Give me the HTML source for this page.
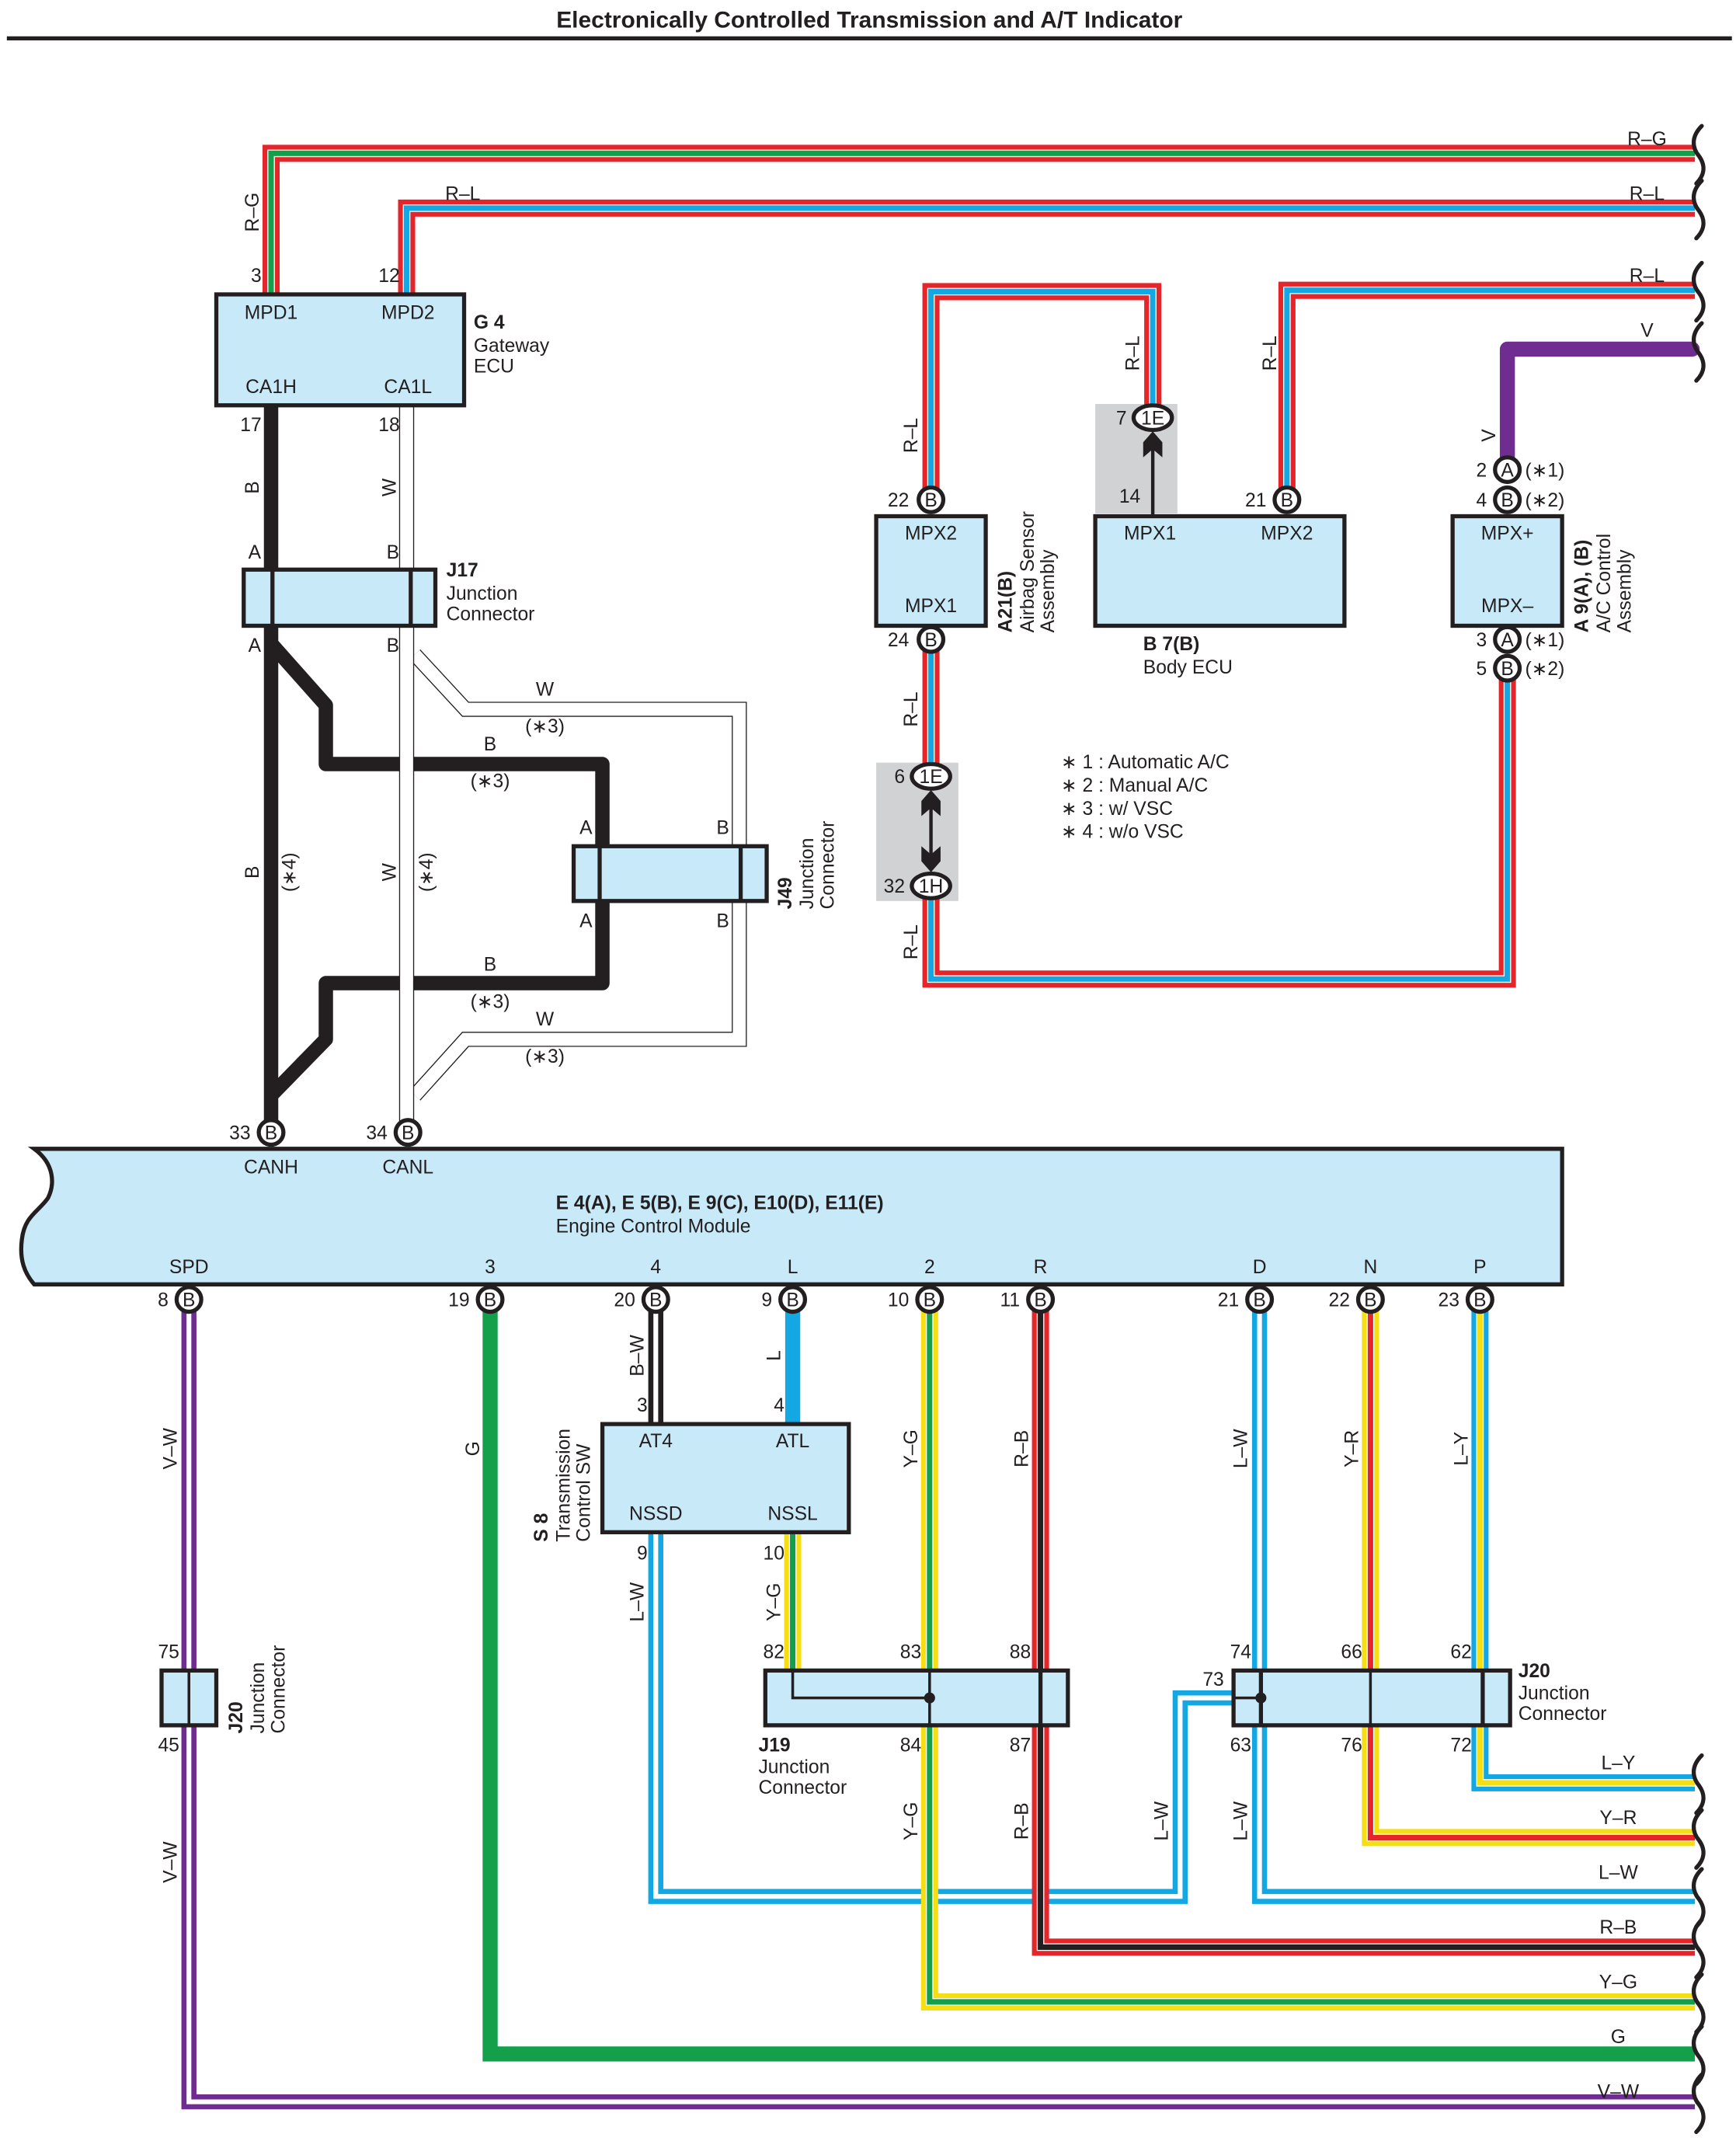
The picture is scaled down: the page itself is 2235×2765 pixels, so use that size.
<!DOCTYPE html>
<html><head><meta charset="utf-8">
<style>
html,body{margin:0;padding:0;background:#fff;}
svg{display:block;}
text{font-family:"Liberation Sans",Arial,sans-serif;font-size:14px;fill:#231f20;}
.b{font-weight:bold;}
.m{text-anchor:middle;}
.e{text-anchor:end;}
.box{fill:#c8e9f8;stroke:#231f20;stroke-width:3;}
.pin{fill:#fff;stroke:#231f20;stroke-width:3;}
path{fill:none;}
.brk{stroke:#231f20;stroke-width:3;stroke-linecap:round;}
.arr{fill:#231f20;stroke:none;}
</style></head>
<body>
<svg width="2235" height="2765" viewBox="0 0 1268 1568.7" xmlns="http://www.w3.org/2000/svg">
<rect x="0" y="0" width="1268" height="1568.7" fill="#fff"/>
<text x="635" y="20" class="m b" style="font-size:17px">Electronically Controlled Transmission and A/T Indicator</text>
<line x1="5" y1="28" x2="1265" y2="28" stroke="#231f20" stroke-width="3"/>

<rect x="800" y="295" width="60" height="80" fill="#d1d2d4"/>
<rect x="640" y="557" width="60" height="101" fill="#d1d2d4"/>

<g stroke-linejoin="miter">
<path d="M198 215 V112 H1238" stroke="#e4262b" stroke-width="12.5"/>
<path d="M198 215 V112 H1238" stroke="#fff" stroke-width="5.5"/>
<path d="M198 215 V112 H1238" stroke="#14a04a" stroke-width="4"/>
<path d="M297 215 V152 H1238" stroke="#e4262b" stroke-width="12.5"/>
<path d="M297 215 V152 H1238" stroke="#fff" stroke-width="5.5"/>
<path d="M297 215 V152 H1238" stroke="#13a8e3" stroke-width="4"/>
<path d="M940 365 V212 H1238" stroke="#e4262b" stroke-width="12.5"/>
<path d="M940 365 V212 H1238" stroke="#fff" stroke-width="5.5"/>
<path d="M940 365 V212 H1238" stroke="#13a8e3" stroke-width="4"/>
<path d="M680 365 V213 H842 V305" stroke="#e4262b" stroke-width="12.5"/>
<path d="M680 365 V213 H842 V305" stroke="#fff" stroke-width="5.5"/>
<path d="M680 365 V213 H842 V305" stroke="#13a8e3" stroke-width="4"/>
<path d="M680 467 V567" stroke="#e4262b" stroke-width="12.5"/>
<path d="M680 467 V567" stroke="#fff" stroke-width="5.5"/>
<path d="M680 467 V567" stroke="#13a8e3" stroke-width="4"/>
<path d="M680 647 V715 H1101 V488" stroke="#e4262b" stroke-width="12.5"/>
<path d="M680 647 V715 H1101 V488" stroke="#fff" stroke-width="5.5"/>
<path d="M680 647 V715 H1101 V488" stroke="#13a8e3" stroke-width="4"/>
</g>
<path d="M1101 343 V255 H1236" stroke="#6f2c91" stroke-width="11" stroke-linejoin="round" stroke-linecap="round"/>

<path d="M198 470 L238 515 V558 H440 V718 H238 V759 L198 800" stroke="#231f20" stroke-width="10.5" stroke-linejoin="round"/>
<path d="M198 296 V827" stroke="#231f20" stroke-width="10.5"/>
<path d="M303 478 L340 518 H540 V759 H340 L303 800" stroke="#231f20" stroke-width="11"/>
<path d="M303 478 L340 518 H540 V759 H340 L303 800" stroke="#fff" stroke-width="9.5"/>
<path d="M297 296 V827" stroke="#231f20" stroke-width="11"/>
<path d="M297 296 V827" stroke="#fff" stroke-width="9.5"/>

<g stroke-linejoin="miter">
<path d="M138 949 V1535 H1238" stroke="#6f2c91" stroke-width="11"/>
<path d="M138 949 V1535 H1238" stroke="#fff" stroke-width="3.5"/>
<path d="M358 949 V1500 H1238" stroke="#14a04a" stroke-width="11"/>
<path d="M479 949 V1040" stroke="#231f20" stroke-width="11"/>
<path d="M479 949 V1040" stroke="#fff" stroke-width="3.5"/>
<path d="M579 949 V1040" stroke="#13a8e3" stroke-width="11"/>
<path d="M479 1119 V1385 H862 V1240 H900" stroke="#13a8e3" stroke-width="11"/>
<path d="M479 1119 V1385 H862 V1240 H900" stroke="#fff" stroke-width="3.5"/>
<path d="M579 1119 V1220" stroke="#f5df13" stroke-width="12.5"/>
<path d="M579 1119 V1220" stroke="#fff" stroke-width="5.5"/>
<path d="M579 1119 V1220" stroke="#14a04a" stroke-width="4"/>
<path d="M679 949 V1462 H1238" stroke="#f5df13" stroke-width="12.5"/>
<path d="M679 949 V1462 H1238" stroke="#fff" stroke-width="5.5"/>
<path d="M679 949 V1462 H1238" stroke="#14a04a" stroke-width="4"/>
<path d="M760 949 V1422 H1238" stroke="#e4262b" stroke-width="12.5"/>
<path d="M760 949 V1422 H1238" stroke="#fff" stroke-width="5.5"/>
<path d="M760 949 V1422 H1238" stroke="#231f20" stroke-width="4"/>
<path d="M920 949 V1385 H1238" stroke="#13a8e3" stroke-width="11"/>
<path d="M920 949 V1385 H1238" stroke="#fff" stroke-width="3.5"/>
<path d="M1001 949 V1342 H1238" stroke="#f5df13" stroke-width="12.5"/>
<path d="M1001 949 V1342 H1238" stroke="#fff" stroke-width="5.5"/>
<path d="M1001 949 V1342 H1238" stroke="#e4262b" stroke-width="4"/>
<path d="M1081 949 V1302 H1238" stroke="#13a8e3" stroke-width="12.5"/>
<path d="M1081 949 V1302 H1238" stroke="#fff" stroke-width="5.5"/>
<path d="M1081 949 V1302 H1238" stroke="#f5df13" stroke-width="4"/>
</g>

<g class="brk">
<path d="M1243 92 C1235 100,1236 108,1241 114 C1246 121,1245 128,1239 134"/>
<path d="M1243 132 C1235 140,1236 148,1241 154 C1246 161,1245 168,1239 174"/>
<path d="M1243 192 C1235 200,1236 208,1241 214 C1246 221,1245 228,1239 234"/>
<path d="M1243 236 C1235 244,1236 252,1241 258 C1246 265,1245 272,1239 278"/>
<path d="M1243 1282 C1235 1290,1236 1298,1241 1304 C1246 1311,1245 1318,1239 1324"/>
<path d="M1243 1322 C1235 1330,1236 1338,1241 1344 C1246 1351,1245 1358,1239 1364"/>
<path d="M1243 1365 C1235 1373,1236 1381,1241 1387 C1246 1394,1245 1401,1239 1407"/>
<path d="M1243 1402 C1235 1410,1236 1418,1241 1424 C1246 1431,1245 1438,1239 1444"/>
<path d="M1243 1442 C1235 1450,1236 1458,1241 1464 C1246 1471,1245 1478,1239 1484"/>
<path d="M1243 1480 C1235 1488,1236 1496,1241 1502 C1246 1509,1245 1516,1239 1522"/>
<path d="M1243 1515 C1235 1523,1236 1531,1241 1537 C1246 1544,1245 1551,1239 1557"/>
</g>

<rect class="box" x="158" y="215" width="181" height="81"/>
<text x="198" y="233" class="m">MPD1</text><text x="298" y="233" class="m">MPD2</text>
<text x="198" y="287" class="m">CA1H</text><text x="298" y="287" class="m">CA1L</text>
<text x="346" y="240" class="b">G 4</text><text x="346" y="257">Gateway</text><text x="346" y="272">ECU</text>
<text x="191" y="206" class="e">3</text><text x="292" y="206" class="e">12</text>
<text x="191" y="315" class="e">17</text><text x="292" y="315" class="e">18</text>

<rect class="box" x="178" y="416" width="140" height="41"/>
<line x1="199" y1="416" x2="199" y2="457" stroke="#231f20" stroke-width="3"/>
<line x1="300" y1="416" x2="300" y2="457" stroke="#231f20" stroke-width="3"/>
<text x="186" y="408" class="m">A</text><text x="287" y="408" class="m">B</text>
<text x="186" y="476" class="m">A</text><text x="287" y="476" class="m">B</text>
<text x="326" y="421" class="b">J17</text><text x="326" y="438">Junction</text><text x="326" y="453">Connector</text>

<rect class="box" x="419" y="618" width="141" height="40"/>
<line x1="438" y1="618" x2="438" y2="658" stroke="#231f20" stroke-width="3"/>
<line x1="541" y1="618" x2="541" y2="658" stroke="#231f20" stroke-width="3"/>
<text x="428" y="609" class="m">A</text><text x="528" y="609" class="m">B</text>
<text x="428" y="677" class="m">A</text><text x="528" y="677" class="m">B</text>
<g transform="translate(578 664) rotate(-90)"><text x="0" y="0" class="b">J49</text><text x="0" y="16">Junction</text><text x="0" y="31">Connector</text></g>

<text x="398" y="508" class="m">W</text><text x="398" y="535" class="m">(∗3)</text>
<text x="358" y="548" class="m">B</text><text x="358" y="575" class="m">(∗3)</text>
<text x="358" y="709" class="m">B</text><text x="358" y="736" class="m">(∗3)</text>
<text x="398" y="749" class="m">W</text><text x="398" y="776" class="m">(∗3)</text>
<text transform="translate(189 356) rotate(-90)" class="m">B</text>
<text transform="translate(289 356) rotate(-90)" class="m">W</text>
<text transform="translate(189 637) rotate(-90)" class="m">B</text>
<text transform="translate(216 637) rotate(-90)" class="m">(∗4)</text>
<text transform="translate(289 637) rotate(-90)" class="m">W</text>
<text transform="translate(316 637) rotate(-90)" class="m">(∗4)</text>
<text transform="translate(189 155) rotate(-90)" class="m">R–G</text>
<text x="338" y="146" class="m">R–L</text>
<text x="1203" y="106" class="m">R–G</text>
<text x="1203" y="146" class="m">R–L</text>
<text x="1203" y="206" class="m">R–L</text>
<text x="1203" y="246" class="m">V</text>
<text transform="translate(670 318) rotate(-90)" class="m">R–L</text>
<text transform="translate(832 258) rotate(-90)" class="m">R–L</text>
<text transform="translate(932 258) rotate(-90)" class="m">R–L</text>
<text transform="translate(1092 318) rotate(-90)" class="m">V</text>
<text transform="translate(670 518) rotate(-90)" class="m">R–L</text>
<text transform="translate(670 688) rotate(-90)" class="m">R–L</text>

<rect class="box" x="640" y="377" width="80" height="80"/>
<text x="680" y="394" class="m">MPX2</text><text x="680" y="447" class="m">MPX1</text>
<text transform="translate(739 462) rotate(-90)" class="b">A21(B)</text>
<text transform="translate(755 462) rotate(-90)">Airbag Sensor</text>
<text transform="translate(770 462) rotate(-90)">Assembly</text>

<rect class="box" x="800" y="377" width="182" height="80"/>
<text x="840" y="394" class="m">MPX1</text><text x="940" y="394" class="m">MPX2</text>
<text x="835" y="475" class="b">B 7(B)</text><text x="835" y="492">Body ECU</text>
<text x="833" y="367" class="e">14</text>
<line x1="842" y1="376" x2="842" y2="325" stroke="#231f20" stroke-width="2.5"/>
<path class="arr" d="M842 315 L849 323 V334 L842 328 L835 334 V323 Z"/>

<rect class="box" x="1061" y="377" width="80" height="80"/>
<text x="1101" y="394" class="m">MPX+</text><text x="1101" y="447" class="m">MPX–</text>
<text transform="translate(1160 462) rotate(-90)" class="b">A 9(A), (B)</text>
<text transform="translate(1176 462) rotate(-90)">A/C Control</text>
<text transform="translate(1191 462) rotate(-90)">Assembly</text>

<line x1="680" y1="585" x2="680" y2="630" stroke="#231f20" stroke-width="2.5"/>
<path class="arr" d="M680 577 L687 585 V596 L680 590 L673 596 V585 Z"/>
<path class="arr" d="M680 637 L687 629 V618 L680 624 L673 618 V629 Z"/>

<text x="775" y="561">∗ 1 : Automatic A/C</text>
<text x="775" y="578">∗ 2 : Manual A/C</text>
<text x="775" y="595">∗ 3 : w/ VSC</text>
<text x="775" y="612">∗ 4 : w/o VSC</text>

<path class="box" d="M25 839 H1141 V938 H25 C18 930,14 920,16 905 C18 888,28 885,35 875 C40 865,40 850,25 839 Z"/>
<text x="198" y="857" class="m">CANH</text><text x="298" y="857" class="m">CANL</text>
<text x="406" y="883" class="b">E 4(A), E 5(B), E 9(C), E10(D), E11(E)</text>
<text x="406" y="900">Engine Control Module</text>
<text x="138" y="930" class="m">SPD</text><text x="358" y="930" class="m">3</text>
<text x="479" y="930" class="m">4</text><text x="579" y="930" class="m">L</text>
<text x="679" y="930" class="m">2</text><text x="760" y="930" class="m">R</text>
<text x="920" y="930" class="m">D</text><text x="1001" y="930" class="m">N</text>
<text x="1081" y="930" class="m">P</text>

<rect class="box" x="440" y="1040" width="180" height="79"/>
<text x="479" y="1057" class="m">AT4</text><text x="579" y="1057" class="m">ATL</text>
<text x="479" y="1110" class="m">NSSD</text><text x="579" y="1110" class="m">NSSL</text>
<text transform="translate(400 1126) rotate(-90)" class="b">S 8</text>
<text transform="translate(416 1126) rotate(-90)">Transmission</text>
<text transform="translate(431 1126) rotate(-90)">Control SW</text>
<text x="473" y="1031" class="e">3</text><text x="573" y="1031" class="e">4</text>
<text x="473" y="1139" class="e">9</text><text x="573" y="1139" class="e">10</text>

<rect class="box" x="559" y="1220" width="221" height="40"/>
<line x1="760" y1="1220" x2="760" y2="1260" stroke="#231f20" stroke-width="3"/>
<line x1="679" y1="1220" x2="679" y2="1260" stroke="#231f20" stroke-width="2"/>
<path d="M579 1220 V1240 H679" stroke="#231f20" stroke-width="2"/>
<circle cx="679" cy="1240" r="4" fill="#231f20"/>
<text x="573" y="1211" class="e">82</text><text x="673" y="1211" class="e">83</text><text x="753" y="1211" class="e">88</text>
<text x="673" y="1279" class="e">84</text><text x="753" y="1279" class="e">87</text>
<text x="554" y="1279" class="b">J19</text><text x="554" y="1295">Junction</text><text x="554" y="1310">Connector</text>

<rect class="box" x="901" y="1220" width="202" height="40"/>
<line x1="921" y1="1220" x2="921" y2="1260" stroke="#231f20" stroke-width="3"/>
<line x1="1083" y1="1220" x2="1083" y2="1260" stroke="#231f20" stroke-width="3"/>
<line x1="1001" y1="1220" x2="1001" y2="1260" stroke="#231f20" stroke-width="2"/>
<line x1="901" y1="1240" x2="921" y2="1240" stroke="#231f20" stroke-width="2"/>
<circle cx="921" cy="1240" r="4" fill="#231f20"/>
<text x="914" y="1211" class="e">74</text><text x="995" y="1211" class="e">66</text><text x="1075" y="1211" class="e">62</text>
<text x="894" y="1231" class="e">73</text>
<text x="914" y="1279" class="e">63</text><text x="995" y="1279" class="e">76</text><text x="1075" y="1279" class="e">72</text>
<text x="1109" y="1225" class="b">J20</text><text x="1109" y="1241">Junction</text><text x="1109" y="1256">Connector</text>

<rect class="box" x="118" y="1220" width="40" height="40"/>
<line x1="138" y1="1220" x2="138" y2="1260" stroke="#231f20" stroke-width="2"/>
<text x="131" y="1211" class="e">75</text><text x="131" y="1279" class="e">45</text>
<text transform="translate(177 1266) rotate(-90)" class="b">J20</text>
<text transform="translate(193 1266) rotate(-90)">Junction</text>
<text transform="translate(208 1266) rotate(-90)">Connector</text>

<text transform="translate(129 1058) rotate(-90)" class="m">V–W</text>
<text transform="translate(129 1360) rotate(-90)" class="m">V–W</text>
<text transform="translate(350 1058) rotate(-90)" class="m">G</text>
<text transform="translate(470 990) rotate(-90)" class="m">B–W</text>
<text transform="translate(570 990) rotate(-90)" class="m">L</text>
<text transform="translate(470 1170) rotate(-90)" class="m">L–W</text>
<text transform="translate(570 1170) rotate(-90)" class="m">Y–G</text>
<text transform="translate(670 1058) rotate(-90)" class="m">Y–G</text>
<text transform="translate(670 1330) rotate(-90)" class="m">Y–G</text>
<text transform="translate(751 1058) rotate(-90)" class="m">R–B</text>
<text transform="translate(751 1330) rotate(-90)" class="m">R–B</text>
<text transform="translate(853 1330) rotate(-90)" class="m">L–W</text>
<text transform="translate(911 1058) rotate(-90)" class="m">L–W</text>
<text transform="translate(911 1330) rotate(-90)" class="m">L–W</text>
<text transform="translate(992 1058) rotate(-90)" class="m">Y–R</text>
<text transform="translate(1072 1058) rotate(-90)" class="m">L–Y</text>
<text x="1182" y="1292" class="m">L–Y</text>
<text x="1182" y="1332" class="m">Y–R</text>
<text x="1182" y="1372" class="m">L–W</text>
<text x="1182" y="1412" class="m">R–B</text>
<text x="1182" y="1452" class="m">Y–G</text>
<text x="1182" y="1492" class="m">G</text>
<text x="1182" y="1532" class="m">V–W</text>

<g>
<circle class="pin" cx="680" cy="365" r="9"/><text x="680" y="370" class="m">B</text><text x="664" y="370" class="e">22</text>
<circle class="pin" cx="680" cy="467" r="9"/><text x="680" y="472" class="m">B</text><text x="664" y="472" class="e">24</text>
<circle class="pin" cx="940" cy="365" r="9"/><text x="940" y="370" class="m">B</text><text x="925" y="370" class="e">21</text>
<circle class="pin" cx="1101" cy="343" r="9"/><text x="1101" y="348" class="m">A</text><text x="1086" y="348" class="e">2</text><text x="1114" y="348">(∗1)</text>
<circle class="pin" cx="1101" cy="365" r="9"/><text x="1101" y="370" class="m">B</text><text x="1086" y="370" class="e">4</text><text x="1114" y="370">(∗2)</text>
<circle class="pin" cx="1101" cy="467" r="9"/><text x="1101" y="472" class="m">A</text><text x="1086" y="472" class="e">3</text><text x="1114" y="472">(∗1)</text>
<circle class="pin" cx="1101" cy="488" r="9"/><text x="1101" y="493" class="m">B</text><text x="1086" y="493" class="e">5</text><text x="1114" y="493">(∗2)</text>
<circle class="pin" cx="198" cy="827" r="9"/><text x="198" y="832" class="m">B</text><text x="183" y="832" class="e">33</text>
<circle class="pin" cx="298" cy="827" r="9"/><text x="298" y="832" class="m">B</text><text x="283" y="832" class="e">34</text>
<circle class="pin" cx="138" cy="949" r="9"/><text x="138" y="954" class="m">B</text><text x="123" y="954" class="e">8</text>
<circle class="pin" cx="358" cy="949" r="9"/><text x="358" y="954" class="m">B</text><text x="343" y="954" class="e">19</text>
<circle class="pin" cx="479" cy="949" r="9"/><text x="479" y="954" class="m">B</text><text x="464" y="954" class="e">20</text>
<circle class="pin" cx="579" cy="949" r="9"/><text x="579" y="954" class="m">B</text><text x="564" y="954" class="e">9</text>
<circle class="pin" cx="679" cy="949" r="9"/><text x="679" y="954" class="m">B</text><text x="664" y="954" class="e">10</text>
<circle class="pin" cx="760" cy="949" r="9"/><text x="760" y="954" class="m">B</text><text x="745" y="954" class="e">11</text>
<circle class="pin" cx="920" cy="949" r="9"/><text x="920" y="954" class="m">B</text><text x="905" y="954" class="e">21</text>
<circle class="pin" cx="1001" cy="949" r="9"/><text x="1001" y="954" class="m">B</text><text x="986" y="954" class="e">22</text>
<circle class="pin" cx="1081" cy="949" r="9"/><text x="1081" y="954" class="m">B</text><text x="1066" y="954" class="e">23</text>
<ellipse class="pin" cx="842" cy="305" rx="14" ry="9"/><text x="842" y="310" class="m">1E</text><text x="823" y="310" class="e">7</text>
<ellipse class="pin" cx="680" cy="567" rx="14" ry="9"/><text x="680" y="572" class="m">1E</text><text x="661" y="572" class="e">6</text>
<ellipse class="pin" cx="680" cy="647" rx="14" ry="9"/><text x="680" y="652" class="m">1H</text><text x="661" y="652" class="e">32</text>
</g>
</svg>
</body></html>
